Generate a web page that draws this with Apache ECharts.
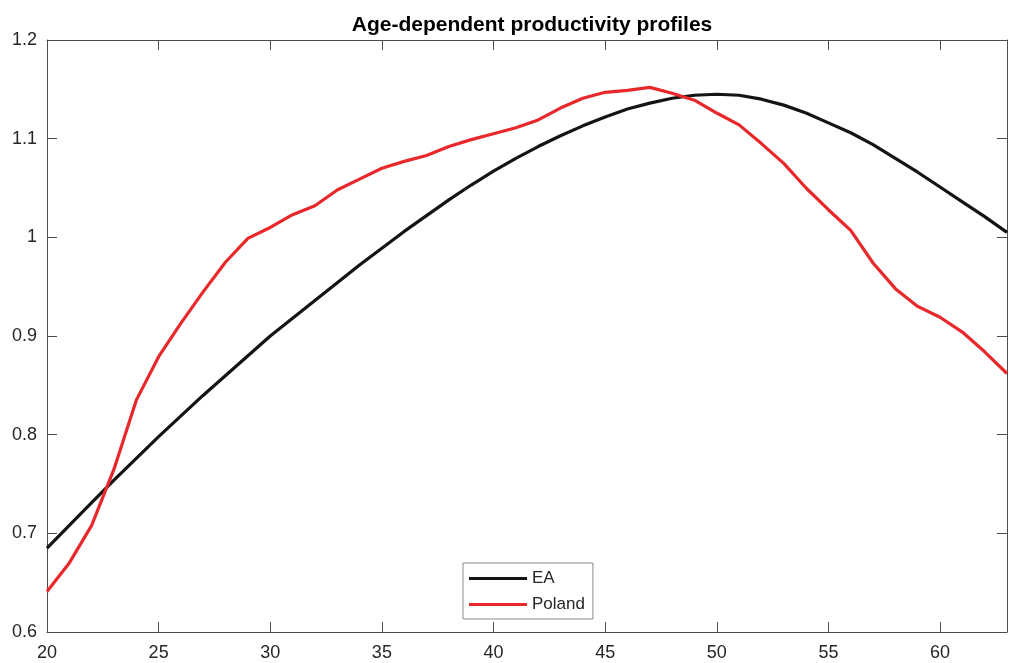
<!DOCTYPE html>
<html>
<head>
<meta charset="utf-8">
<script src="https://cdn.jsdelivr.net/npm/echarts@6/dist/echarts.min.js"></script>
<style>
html,body{margin:0;padding:0;background:#fff;}
#chart{width:1013px;height:663px;}
</style>
</head>
<body>
<div id="chart"></div>
<script>
const ages = [20,21,22,23,24,25,26,27,28,29,30,31,32,33,34,35,36,37,38,39,40,41,42,43,44,45,46,47,48,49,50,51,52,53,54,55,56,57,58,59,60,61,62,63];
const eaValues = [0.685,0.708,0.731,0.754,0.776,0.798,0.819,0.840,0.860,0.880,0.900,0.918,0.936,0.954,0.972,0.989,1.006,1.022,1.038,1.053,1.067,1.080,1.092,1.103,1.113,1.122,1.130,1.136,1.141,1.144,1.145,1.144,1.140,1.134,1.126,1.116,1.106,1.094,1.080,1.066,1.051,1.036,1.021,1.005];
const polandValues = [0.641,0.670,0.708,0.765,0.835,0.879,0.913,0.945,0.975,0.999,1.010,1.023,1.032,1.048,1.059,1.070,1.077,1.083,1.092,1.099,1.105,1.111,1.119,1.131,1.141,1.147,1.149,1.152,1.146,1.139,1.126,1.114,1.095,1.075,1.050,1.028,1.007,0.974,0.948,0.930,0.919,0.904,0.884,0.862];
const xTicks = [20,25,30,35,40,45,50,55,60];
const yTicks = [0.6,0.7,0.8,0.9,1,1.1,1.2];
const seriesNames = ['EA','Poland'];
const chartTitle = 'Age-dependent productivity profiles';

const FONT = '"Liberation Sans", Arial, Helvetica, sans-serif';
const axisCol = '#4d4d4d';
const textCol = '#262626';

function pairs(xs, ys){ return xs.map((x,i)=>[x, ys[i]]); }

const chart = echarts.init(document.getElementById('chart'), null, {renderer:'canvas'});
const baseX = {
  type:'value', min:20, max:63, interval:5,
  axisLine:{show:true, onZero:false, lineStyle:{color:axisCol, width:1}},
  axisTick:{show:true, inside:true, length:10, lineStyle:{color:axisCol}},
  splitLine:{show:false}
};
const baseY = {
  type:'value', min:0.6, max:1.2, interval:0.1,
  axisLine:{show:true, onZero:false, lineStyle:{color:axisCol, width:1}},
  axisTick:{show:true, inside:true, length:10, lineStyle:{color:axisCol}},
  splitLine:{show:false}
};
chart.setOption({
  animation:false,
  backgroundColor:'#fff',
  title:{
    text:chartTitle, left:527, top:10, textAlign:'center',
    textStyle:{fontFamily:FONT, fontSize:21, fontWeight:'bold', color:'#000'}
  },
  grid:{left:47, right:6, top:40, bottom:31, containLabel:false},
  legend:{
    orient:'vertical', left:463, top:563,
    data:seriesNames.map(n=>({name:n, icon:'rect'})),
    itemWidth:58, itemHeight:3, itemGap:9,
    padding:[7,8,6,6],
    borderColor:'#8c8c8c', borderWidth:1, backgroundColor:'#fff',
    textStyle:{fontFamily:FONT, fontSize:17, color:textCol}
  },
  xAxis:[
    Object.assign({}, baseX, {position:'bottom',
      axisLabel:{show:true, margin:12, fontFamily:FONT, fontSize:18, color:textCol, showMaxLabel:false,
        formatter:v=> xTicks.includes(v) ? String(v) : ''}}),
    Object.assign({}, baseX, {position:'top', axisLabel:{show:false}})
  ],
  yAxis:[
    Object.assign({}, baseY, {position:'left',
      axisLabel:{show:true, margin:10, fontFamily:FONT, fontSize:18, color:textCol,
        formatter:v=>{ const r=Math.round(v*10)/10; return yTicks.includes(r) ? String(r) : ''; }}}),
    Object.assign({}, baseY, {position:'right', axisLabel:{show:false}})
  ],
  series:[
    {name:seriesNames[0], type:'line', data:pairs(ages, eaValues), symbol:'none', smooth:false,
      lineStyle:{color:'#141414', width:3.2}, itemStyle:{color:'#141414'}, z:3},
    {name:seriesNames[1], type:'line', data:pairs(ages, polandValues), symbol:'none', smooth:false,
      lineStyle:{color:'#e8282b', width:3.2}, itemStyle:{color:'#e8282b'}, z:4}
  ]
});
</script>
</body>
</html>
